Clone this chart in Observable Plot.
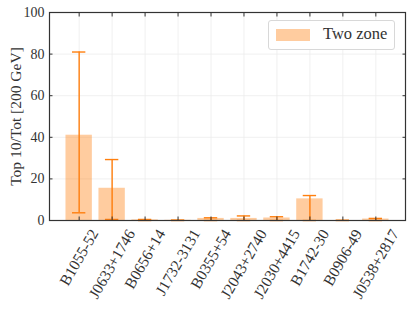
<!DOCTYPE html>
<html>
<head>
<meta charset="utf-8">
<script src="https://cdn.jsdelivr.net/npm/d3@7"></script>
<script src="https://cdn.jsdelivr.net/npm/@observablehq/plot@0.6"></script>
<style>
  html, body { margin: 0; padding: 0; background: #fff; }
  #wrap { position: relative; width: 413px; height: 310px; }
  #wrap svg, #wrap svg text { font-family: 'Liberation Serif', serif !important; }
  #legend {
    position: absolute; left: 268px; top: 20px; width: 127px; height: 30px;
    box-sizing: border-box; border: 1px solid #d8d8d8; border-radius: 3px; background: #fff;
    font-family: 'Liberation Serif', serif; font-size: 16.5px; color: #333;
  }
  #legend .patch { position: absolute; left: 7px; top: 8px; width: 34px; height: 12px; background: #ff7f0e; opacity: 0.4; }
  #legend .lab { position: absolute; left: 54px; top: 3px; white-space: nowrap; }
</style>
</head>
<body>
<div id="wrap"></div>
<script>
const categories = ["B1055-52", "J0633+1746", "B0656+14", "J1732-3131", "B0355+54", "J2043+2740", "J2030+4415", "B1742-30", "B0906-49", "J0538+2817"];
const values     = [41.0, 15.5, 0.3, 0.1, 1.0, 1.0, 1.2, 10.4, 0.0, 0.7];
const errLow     = [3.7, 0.5, 0.0, 0.0, 0.0, 0.0, 0.0, 0.0, 0.0, 0.0];
const errHigh    = [81.0, 29.3, 0.5, 0.2, 1.3, 2.2, 1.8, 12.0, 0.1, 1.0];
const yTicks     = [0, 20, 40, 60, 80, 100];
const yLabel     = "Top 10/Tot [200 GeV]";
const seriesName = "Two zone";

const data = categories.map((c, i) => ({cat: c, v: values[i], lo: errLow[i], hi: errHigh[i]}));
const orange = "#ff7f0e";

const plot = Plot.plot({
  width: 413,
  height: 310,
  marginLeft: 49,
  marginRight: 8,
  marginTop: 12,
  marginBottom: 90,
  style: {fontFamily: "'Liberation Serif', serif", fontSize: "13.5px", color: "#333", background: "#fff"},
  x: {domain: categories, paddingInner: 0.2, paddingOuter: 0.5, align: 0.5, round: false},
  y: {domain: [0, 100]},
  marks: [
    Plot.gridY(yTicks, {stroke: "#ececec", strokeOpacity: 1, strokeWidth: 0.8}),
    Plot.gridX(categories, {stroke: "#ececec", strokeOpacity: 1, strokeWidth: 0.8}),
    Plot.barY(data, {x: "cat", y: "v", fill: orange, fillOpacity: 0.4}),
    Plot.ruleX(data, {x: "cat", y1: "lo", y2: "hi", stroke: orange, strokeWidth: 1.4}),
    Plot.tickY(data, {x: "cat", y: "hi", stroke: orange, strokeWidth: 1.4, insetLeft: 6.5, insetRight: 6.5}),
    Plot.tickY(data, {x: "cat", y: "lo", stroke: orange, strokeWidth: 1.4, insetLeft: 6.5, insetRight: 6.5}),
    Plot.axisY(yTicks, {anchor: "left", tickSize: -3.5, tickPadding: 8.5, stroke: "#333", label: null, fill: "#333", fontSize: 14}),
    Plot.axisY(yTicks, {anchor: "right", tickSize: -3.5, text: null, label: null, stroke: "#333"}),
    Plot.axisX({anchor: "top", tickSize: -3.5, text: null, label: null, stroke: "#333"}),
    Plot.axisX({anchor: "bottom", tickSize: -3.5, tickPadding: 0, tickRotate: -60, textAnchor: "middle", lineAnchor: "middle", label: null, stroke: "#333", fill: "#333", fontSize: 15.5}),
    Plot.text([yLabel], {text: d => d, frameAnchor: "left", textAnchor: "middle", lineAnchor: "middle", dx: -33, rotate: -90, fontSize: 15.5, fill: "#333"}),
    Plot.frame({stroke: "#333", strokeWidth: 1.2})
  ]
});

const wrap = document.getElementById("wrap");
wrap.appendChild(plot);

// align rotated tick labels so that their rotated box starts just below the axis
const svgRect = plot.getBoundingClientRect();
const targetTop = 226;
d3.select(plot).selectAll('g[aria-label="x-axis tick label"] text').each(function() {
  const r = this.getBoundingClientRect();
  const top = r.top - svgRect.top;
  const shift = targetTop - top;
  const t = this.getAttribute("transform") || "";
  this.setAttribute("transform", `translate(0,${shift}) ` + t);
});

const legend = document.createElement("div");
legend.id = "legend";
legend.innerHTML = `<div class="patch"></div><div class="lab">${seriesName}</div>`;
wrap.appendChild(legend);
</script>
</body>
</html>
